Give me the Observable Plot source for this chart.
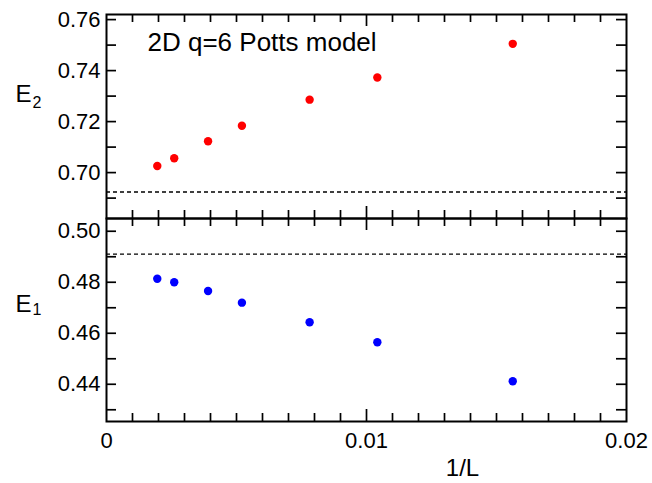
<!DOCTYPE html>
<html>
<head>
<meta charset="utf-8">
<script src="https://cdn.jsdelivr.net/npm/d3@7"></script>
<script src="https://cdn.jsdelivr.net/npm/@observablehq/plot@0.6"></script>
<style>
  html, body { margin: 0; padding: 0; background: #fff; }
  #chart { position: relative; width: 652px; height: 483px; }
  #chart svg { display: block; }
</style>
</head>
<body>
<div id="chart"></div>
<script>
// ---- data ----
const sizesL = [512, 384, 256, 192, 128, 96, 64];
const invL = sizesL.map(l => 1 / l);
const E2 = [0.7026, 0.7056, 0.7123, 0.7184, 0.7286, 0.7373, 0.7505];
const E1 = [0.4814, 0.4800, 0.4766, 0.4720, 0.4643, 0.4565, 0.4412];
const E2limit = [0.6924];
const E1limit = [0.4910];

// ---- ticks ----
const xMinorTicks = [0.001, 0.002, 0.003, 0.004, 0.005, 0.006, 0.007, 0.008, 0.009,
                     0.011, 0.012, 0.013, 0.014, 0.015, 0.016, 0.017, 0.018, 0.019];
const xMajorTicks = [0.01];
const xTickLabels = [0, 0.01, 0.02];
const yTicksTop = [0.69, 0.70, 0.71, 0.72, 0.73, 0.74, 0.75, 0.76];
const yLabelsTop = [0.70, 0.72, 0.74, 0.76];
const yTicksBottom = [0.43, 0.44, 0.45, 0.46, 0.47, 0.48, 0.49, 0.50];
const yLabelsBottom = [0.44, 0.46, 0.48, 0.50];

const titleText = ["2D q=6 Potts model"];
const xLabel = ["1/L"];

const topData = invL.map((x, i) => ({x, y: E2[i]}));
const botData = invL.map((x, i) => ({x, y: E1[i]}));

const W = 652, ML = 106, MR = 26;
const PW = W - ML - MR;
const font = "'Liberation Sans', Arial, Helvetica, sans-serif";

function frameTicks(yTicks, H) {
  const sw = 1.7;
  return [
    Plot.tickX(xMinorTicks, {x: d => d, insetTop: H - 8, stroke: "black", strokeWidth: sw}),
    Plot.tickX(xMinorTicks, {x: d => d, insetBottom: H - 8, stroke: "black", strokeWidth: sw}),
    Plot.tickX(xMajorTicks, {x: d => d, insetTop: H - 12, stroke: "black", strokeWidth: sw}),
    Plot.tickX(xMajorTicks, {x: d => d, insetBottom: H - 12, stroke: "black", strokeWidth: sw}),
    Plot.tickY(yTicks, {y: d => d, insetRight: PW - 10, stroke: "black", strokeWidth: sw}),
    Plot.tickY(yTicks, {y: d => d, insetLeft: PW - 10, stroke: "black", strokeWidth: sw})
  ];
}

// ---- top panel ----
const topH = 218, topMT = 14, topMB = 0;
const topPH = topH - topMT - topMB;
const topPlot = Plot.plot({
  width: W, height: topH,
  marginLeft: ML, marginRight: MR, marginTop: topMT, marginBottom: topMB,
  style: {fontFamily: font, color: "black", background: "transparent", overflow: "visible"},
  x: {domain: [0, 0.02], axis: null},
  y: {domain: [0.682, 0.762], axis: null},
  marks: [
    Plot.ruleY(E2limit, {y: d => d, stroke: "black", strokeWidth: 1.3, strokeDasharray: "4,3"}),
    ...frameTicks(yTicksTop, topPH),
    Plot.axisY(yLabelsTop, {tickSize: 0, tickPadding: 6, fontSize: 22, tickFormat: d => d.toFixed(2), label: null}),
    Plot.dot(topData, {x: "x", y: "y", r: 4.2, fill: "#ff0000", stroke: "none"}),
    Plot.text(titleText, {text: d => d, frameAnchor: "top-left", dx: 41, dy: 28, textAnchor: "start", lineAnchor: "middle", fontSize: 26}),
    Plot.text(["E"], {text: d => d, frameAnchor: "left", dx: -91, dy: -22, textAnchor: "start", lineAnchor: "middle", fontSize: 24}),
    Plot.text(["2"], {text: d => d, frameAnchor: "left", dx: -74, dy: -14, textAnchor: "start", lineAnchor: "middle", fontSize: 16}),
    Plot.frame({stroke: "black", strokeWidth: 2})
  ]
});

// ---- bottom panel ----
const botH = 265, botMT = 0, botMB = 62;
const botPH = botH - botMT - botMB;
const botPlot = Plot.plot({
  width: W, height: botH,
  marginLeft: ML, marginRight: MR, marginTop: botMT, marginBottom: botMB,
  style: {fontFamily: font, color: "black", background: "transparent", overflow: "visible"},
  x: {domain: [0, 0.02], axis: null},
  y: {domain: [0.4254, 0.505], axis: null},
  marks: [
    Plot.ruleY(E1limit, {y: d => d, stroke: "black", strokeWidth: 1.3, strokeDasharray: "4,3"}),
    ...frameTicks(yTicksBottom, botPH),
    Plot.axisY(yLabelsBottom, {tickSize: 0, tickPadding: 6, fontSize: 22, tickFormat: d => d.toFixed(2), label: null}),
    Plot.axisX(xTickLabels, {tickSize: 0, tickPadding: 11, fontSize: 22, tickFormat: d => String(d), label: null}),
    Plot.dot(botData, {x: "x", y: "y", r: 4.2, fill: "#0000ff", stroke: "none"}),
    Plot.text(["E"], {text: d => d, frameAnchor: "left", dx: -91, dy: -16, textAnchor: "start", lineAnchor: "middle", fontSize: 24}),
    Plot.text(["1"], {text: d => d, frameAnchor: "left", dx: -74, dy: -10, textAnchor: "start", lineAnchor: "middle", fontSize: 16}),
    Plot.text(xLabel, {text: d => d, frameAnchor: "bottom", dx: 96, dy: 47, textAnchor: "middle", lineAnchor: "middle", fontSize: 24}),
    Plot.frame({stroke: "black", strokeWidth: 2})
  ]
});

const chart = document.getElementById("chart");
chart.appendChild(topPlot);
chart.appendChild(botPlot);
</script>
</body>
</html>
